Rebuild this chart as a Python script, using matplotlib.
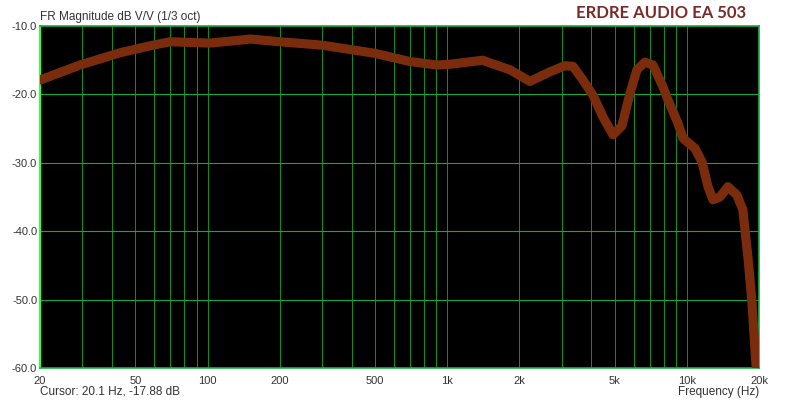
import matplotlib.pyplot as plt
import numpy as np
from matplotlib.ticker import FixedLocator, FixedFormatter, FuncFormatter

plt.switch_backend('agg')

# frequency response (Hz, dB)
freq = [20, 29.4, 43.3, 57.5, 69.8, 102, 143, 150, 200, 300, 500, 700, 906, 1026,
        1409, 1508, 1828, 2214, 2685, 3098, 3350, 3683, 4056, 4467, 4918, 5360,
        5784, 6190, 6684, 7216, 7950, 8338, 9180, 9634, 10816, 11572, 12252,
        12850, 13740, 14832, 16172, 17130, 17980, 18670, 19220, 19450]
mag = [-17.9, -15.7, -13.9, -12.9, -12.3, -12.5, -12.0, -11.9, -12.3, -12.8, -14.0,
       -15.2, -15.7, -15.6, -15.0, -15.4, -16.4, -18.1, -16.7, -15.8, -15.9, -17.9,
       -20.1, -23.3, -25.9, -24.6, -19.9, -16.4, -15.3, -15.7, -18.9, -20.8,
       -24.2, -26.4, -27.9, -29.9, -33.5, -35.4, -35.0, -33.5, -34.7, -36.9,
       -43.8, -50.1, -57.0, -59.8]

y_ticks = [-10, -20, -30, -40, -50, -60]
x_ticks = [20, 50, 100, 200, 500, 1000, 2000, 5000, 10000, 20000]
x_labels = ['20', '50', '100', '200', '500', '1k', '2k', '5k', '10k', '20k']

fig = plt.figure(figsize=(7.99, 4.0), dpi=100)
ax = fig.add_axes([40 / 799, 1 - 368 / 400, 719 / 799, 342 / 400])
ax.set_facecolor('black')
ax.set_xscale('log')
ax.set_xlim(20, 20000)
ax.set_ylim(-60, -10)

grid_x = [m * 10 ** d for d in range(1, 5) for m in range(1, 10)]
grid_x = [g for g in grid_x if 20 < g < 20000]
for g in grid_x:
    ax.axvline(g, color='#0b8c2c', lw=0.75, zorder=1)
for g in y_ticks[1:-1]:
    ax.axhline(g, color='#14a83a', lw=0.8, zorder=1)

ax.plot(freq, mag, color='#7a2c0c', lw=6.6, solid_capstyle='round',
        solid_joinstyle='round', zorder=3)

ax.xaxis.set_major_locator(FixedLocator(x_ticks))
ax.xaxis.set_major_formatter(FixedFormatter(x_labels))
ax.xaxis.set_minor_locator(FixedLocator([]))
ax.set_yticks(y_ticks)
ax.yaxis.set_major_formatter(FuncFormatter(lambda v, p: f'{v:.1f}'))
ax.tick_params(axis='both', length=0, labelsize=8, labelcolor='#333333')
ax.tick_params(axis='x', pad=6)
ax.tick_params(axis='y', pad=2)
for lbl in ax.get_xticklabels() + ax.get_yticklabels():
    lbl.set_family('Liberation Sans')

for side in ['top', 'right', 'bottom']:
    ax.spines[side].set_color('#14b040')
    ax.spines[side].set_linewidth(1.2)
ax.spines['left'].set_color('#33ff33')
ax.spines['left'].set_linewidth(1.6)

fig.text(40 / 799, 1 - 17 / 400, 'FR Magnitude dB V/V (1/3 oct)', fontsize=8.5,
         family='Liberation Sans', color='#333333', ha='left', va='center')
fig.text(40 / 799, 1 - 392 / 400, 'Cursor: 20.1 Hz, -17.88 dB', fontsize=8.5,
         family='Liberation Sans', color='#333333', ha='left', va='center')
fig.text(759 / 799, 1 - 392 / 400, 'Frequency (Hz)', fontsize=8.5,
         family='Liberation Sans', color='#333333', ha='right', va='center')
fig.text(746 / 799, 1 - 13 / 400, 'ERDRE AUDIO EA 503', fontsize=12,
         fontweight='bold', family='Lato', color='#7b2a2a',
         ha='right', va='center')

fig.savefig('out.png', dpi=100, facecolor='white')
